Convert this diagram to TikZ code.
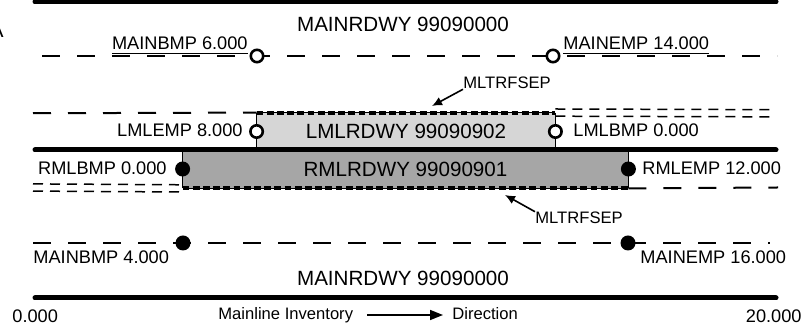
\documentclass[tikz,border=0pt]{standalone}
\usepackage{fontspec}
\setmainfont{Liberation Sans}
\usetikzlibrary{positioning,arrows.meta}

\definecolor{lmlgray}{HTML}{D6D6D6}
\definecolor{rmlgray}{HTML}{A6A6A6}

\begin{document}
\begin{tikzpicture}[x=0.5pt,y=-0.5pt,
    roadway/.style ={line width=2.5pt, line cap=round},
    mainline/.style ={line width=1pt, dash pattern=on 9pt off 8.5pt},
    sepline/.style ={line width=0.6pt, postaction={draw, line width=2pt, dash pattern=on 3.4pt off 1.7pt}},
    dblline/.style ={line width=0.75pt, dash pattern=on 5pt off 3.5pt},
    edgeline/.style ={line width=0.6pt},
    openpin/.style ={circle, draw, line width=1.3pt, fill=white, inner sep=0pt, minimum size=6.2pt},
    fillpin/.style ={circle, fill=black, inner sep=0pt, minimum size=7.5pt},
    bigtext/.style ={inner sep=0pt, font=\fontsize{10.3}{12}\selectfont},
    lbltext/.style ={inner sep=0pt, font=\fontsize{9.1}{11}\selectfont},
    smalltext/.style ={inner sep=0pt, font=\fontsize{8.3}{10}\selectfont},
    pointer/.style ={line width=0.8pt, -{Latex[length=5pt,width=4.5pt]}},
    dirarrow/.style ={line width=0.8pt, -{Triangle[length=6.5pt,width=5pt]}},
    lmlbox/.style ={bigtext, fill=lmlgray, minimum width=149pt, minimum height=18.5pt},
    rmlbox/.style ={bigtext, fill=rmlgray, minimum width=222.5pt, minimum height=19pt}]
   \useasboundingbox (0,0) rectangle (804,330);

   % ramps
   \node[lmlbox] (lml) at (406,131.5) {LMLRDWY 99090902};
   \node[rmlbox] (rml) at (405.5,169) {RMLRDWY 99090901};

   % ends of the lines
   \coordinate (topL) at (35,2);    \coordinate (topR) at (776,2);
   \coordinate (midL) at (35,150);  \coordinate (midR) at (776,150);
   \coordinate (botL) at (35,298);  \coordinate (botR) at (776,298);
   \coordinate (mainTopL) at (42,56);  \coordinate (mainTopR) at (777,56);
   \coordinate (mainBotL) at (33,243); \coordinate (mainBotR) at (770,243);
   \coordinate (lmlL) at (33,113.25);  \coordinate (lmlR) at (773,113.25);
   \coordinate (rmlL) at (33,187.5);   \coordinate (rmlR) at (778,187.5);

   \draw[roadway] (topL) -- (topR);
   \draw[roadway] (midL) -- (midR);
   \draw[roadway] (botL) -- (botR);
   \draw[mainline] (mainTopL) -- (mainTopR);
   \draw[mainline] (mainBotL) -- (mainBotR);

   \draw[mainline] (lmlL) -- (lml.north west);
   \draw[sepline] (lml.north west) -- (lml.north east);
   \draw[dblline] ([yshift=1.8pt]lml.north east) -- ([yshift=1.8pt]lmlR);
   \draw[dblline] ([yshift=-1.8pt]lml.north east) -- ([yshift=-1.8pt]lmlR);
   \draw[edgeline] (lml.north west) -- (lml.south west);
   \draw[edgeline] (lml.north east) -- (lml.south east);

   \draw[dblline] ([yshift=1.8pt]rmlL) -- ([yshift=1.8pt]rml.south west);
   \draw[dblline] ([yshift=-1.8pt]rmlL) -- ([yshift=-1.8pt]rml.south west);
   \draw[sepline] (rml.south west) -- (rml.south east);
   \draw[mainline] (rml.south east) -- (rmlR);
   \draw[edgeline] (rml.north west) -- (rml.south west);
   \draw[edgeline] (rml.north east) -- (rml.south east);

   % milepoints
   \node[openpin] (mainbmp6) at (257,56) {};
   \node[openpin] (mainemp14) at (553,56) {};
   \node[openpin] (lmlemp) at (lml.west) {};
   \node[openpin] (lmlbmp) at (lml.east) {};
   \node[fillpin] (rmlbmp) at (rml.west) {};
   \node[fillpin] (rmlemp) at (rml.east) {};
   \node[fillpin] (mainbmp4) at (183,243) {};
   \node[fillpin] (mainemp16) at (628,243) {};

   \node[bigtext, anchor=east] (cornerA) at (4,30) {A};
   \node[bigtext] (maintop) at (403,24) {MAINRDWY 99090000};
   \node[bigtext] (mainbot) at (403,278) {MAINRDWY 99090000};

   \node[lbltext, anchor=base east] (mainbmp6txt) at (248,50) {\underline{MAINBMP 6.000}};
   \node[lbltext, anchor=base west] (mainemp14txt) at (563,50) {\underline{MAINEMP 14.000}};
   \node[lbltext, anchor=east] (lmlemptxt) at (243,130) {LMLEMP 8.000};
   \node[lbltext, anchor=west] (lmlbmptxt) at (573,130) {LMLBMP 0.000};
   \node[lbltext, anchor=east] (rmlbmptxt) at (167,168) {RMLBMP 0.000};
   \node[lbltext, anchor=west] (rmlemptxt) at (642,168) {RMLEMP 12.000};
   \node[lbltext, anchor=west] (mainbmp4txt) at (33,257) {MAINBMP 4.000};
   \node[lbltext, anchor=west] (mainemp16txt) at (640,257) {MAINEMP 16.000};

   % separators
   \node[smalltext, anchor=west] (septop) at (463,83) {MLTRFSEP};
   \coordinate (septopend) at (432,106);
   \draw[pointer] (septop.south west) -- (septopend);
   \node[smalltext, anchor=west] (sepbot) at (535,218) {MLTRFSEP};
   \coordinate (sepbotend) at (505,195);
   \draw[pointer] (sepbot.north west) -- (sepbotend);

   \node[lbltext, anchor=west] (zero) at (12,316) {0.000};
   \node[lbltext, anchor=east] (twenty) at (802,316) {20.000};
   \node[smalltext, anchor=base west] (mlinv) at (218,320) {Mainline Inventory};
   \node[smalltext, anchor=base west] (dirtxt) at (452,320) {Direction};
   \coordinate (dirS) at (367,315);
   \coordinate (dirE) at (443,315);
   \draw[dirarrow] (dirS) -- (dirE);
 \end{tikzpicture}
\end{document}
